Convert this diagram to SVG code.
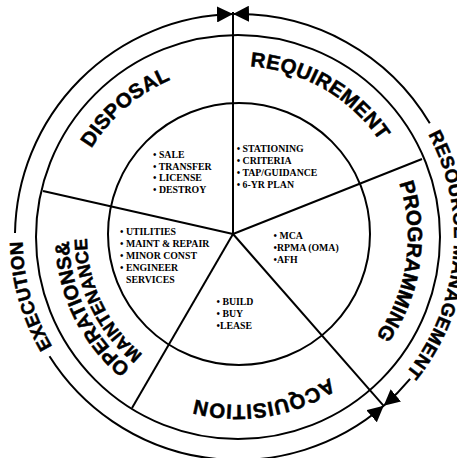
<svg xmlns="http://www.w3.org/2000/svg" width="457" height="458" viewBox="0 0 457 458">
<style>
.ring{fill:none;stroke:#000;stroke-width:2}
.spoke{fill:none;stroke:#000;stroke-width:2}
.arc{fill:none;stroke:#000;stroke-width:2}
.lbl{font-family:"Liberation Sans",Arial,sans-serif;font-weight:700;font-size:20.5px;fill:#000;stroke:#000;stroke-width:0.5}
.phase{font-family:"Liberation Sans",Arial,sans-serif;font-weight:700;font-size:18.5px;fill:#000;stroke:#000;stroke-width:0.5}
.list{font-family:"Liberation Serif","Times New Roman",serif;font-weight:700;font-size:9.8px;fill:#000}
</style>
<defs>
<marker id="arrow" viewBox="0 0 16 16" refX="16" refY="8" markerUnits="userSpaceOnUse" markerWidth="16" markerHeight="16" orient="auto-start-reverse">
<path d="M0,0 L16,8 L0,16 Z" fill="#000"/>
</marker>
<path id="p-req" d="M107.0,127.1 A171,171 0 0 1 398.7,295.5"/>
<path id="p-dis" d="M91.4,325.1 A171,171 0 0 1 345.6,104.1"/>
<path id="p-prog" d="M292.2,75.9 A170,170 0 0 1 242.2,406.9"/>
<path id="p-acq" d="M406.0,239.9 A168,168 0 0 1 79.2,291.7"/>
<path id="p-ops" d="M284.6,399.5 A169,169 0 0 1 138.7,100.3"/>
<path id="p-mnt" d="M278.9,382.4 A151,151 0 0 1 149.9,114.4"/>
<path id="p-exe" d="M259.8,451.4 A215.5,215.5 0 0 1 144.2,43.0"/>
<path id="p-res" d="M295.2,28.7 A216,216 0 0 1 255.5,452.3"/>
</defs>
<rect width="457" height="458" fill="#fff"/>
<g id="rings">
<circle class="ring" cx="238" cy="237" r="202"/>
<circle class="ring" cx="239" cy="234" r="131"/>
</g>
<g id="connectors">
<line class="spoke" x1="233" y1="234" x2="233" y2="12"/>
<line class="spoke" x1="233" y1="234" x2="422" y2="159"/>
<line class="spoke" x1="233" y1="234" x2="383.7" y2="405.8"/>
<line class="spoke" x1="233" y1="234" x2="132" y2="408"/>
<line class="spoke" x1="233" y1="234" x2="43" y2="191"/>
<path class="arc" d="M383.7,405.8 A223,223 0 0 1 49.5,356.2" marker-start="url(#arrow)"/>
<path class="arc" d="M15.0,233.1 A223,223 0 0 1 233.0,14.1" marker-end="url(#arrow)"/>
<path class="arc" d="M233.0,14.1 A223,223 0 0 1 429.8,123.2" marker-start="url(#arrow)"/>
<path class="arc" d="M410.1,378.9 A223,223 0 0 1 383.7,405.8" marker-end="url(#arrow)"/>
</g>
<g id="requirement">
<text class="lbl" letter-spacing="0.3"><textPath href="#p-req" startOffset="50%" text-anchor="middle">REQUIREMENT</textPath></text>
<text class="list" x="236.7" y="151.7">• STATIONING<tspan x="236.7" dy="12">• CRITERIA</tspan><tspan x="236.7" dy="12">• TAP/GUIDANCE</tspan><tspan x="236.7" dy="12">• 6-YR PLAN</tspan></text>
</g>
<g id="programming">
<text class="lbl"><textPath href="#p-prog" startOffset="50%" text-anchor="middle">PROGRAMMING</textPath></text>
<text class="list" x="273.5" y="239.3">• MCA<tspan x="273.5" dy="12">•RPMA (OMA)</tspan><tspan x="273.5" dy="12">•AFH</tspan></text>
</g>
<g id="acquisition">
<text class="lbl" letter-spacing="0.6"><textPath href="#p-acq" startOffset="50%" text-anchor="middle">ACQUISITION</textPath></text>
<text class="list" x="216.5" y="305.3">• BUILD<tspan x="216.5" dy="12">• BUY</tspan><tspan x="216.5" dy="12">•LEASE</tspan></text>
</g>
<g id="operations-maintenance">
<text class="lbl" style="font-size:20px"><textPath href="#p-ops" startOffset="50%" text-anchor="middle">OPERATIONS&amp;</textPath></text>
<text class="lbl" style="font-size:18px"><textPath href="#p-mnt" startOffset="50%" text-anchor="middle">MAINTENANCE</textPath></text>
<text class="list" x="120" y="234.7">• UTILITIES<tspan x="120" dy="12">• MAINT &amp; REPAIR</tspan><tspan x="120" dy="12">• MINOR CONST</tspan><tspan x="120" dy="12">• ENGINEER</tspan><tspan x="126" dy="12">SERVICES</tspan></text>
</g>
<g id="disposal">
<text class="lbl" letter-spacing="0.3"><textPath href="#p-dis" startOffset="50%" text-anchor="middle">DISPOSAL</textPath></text>
<text class="list" x="153" y="158.3">• SALE<tspan x="153" dy="11.5">• TRANSFER</tspan><tspan x="153" dy="11.5">• LICENSE</tspan><tspan x="153" dy="11.5">• DESTROY</tspan></text>
</g>
<g id="execution">
<text class="phase" letter-spacing="0.3"><textPath href="#p-exe" startOffset="50%" text-anchor="middle">EXECUTION</textPath></text>
</g>
<g id="resource-management">
<text class="phase" letter-spacing="0.5"><textPath href="#p-res" startOffset="50%" text-anchor="middle">RESOURCE MANAGEMENT</textPath></text>
</g>
</svg>
